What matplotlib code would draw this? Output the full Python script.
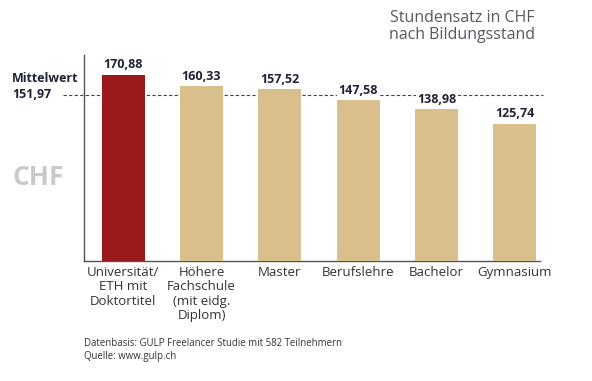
import matplotlib
matplotlib.use("Agg")
import matplotlib.pyplot as plt

plt.rcParams["font.family"] = ["Open Sans", "DejaVu Sans"]

categories = ["Universität/\nETH mit\nDoktortitel", "Höhere\nFachschule\n(mit eidg.\nDiplom)",
              "Master", "Berufslehre", "Bachelor", "Gymnasium"]
values = [170.88, 160.33, 157.52, 147.58, 138.98, 125.74]
value_labels = ["170,88", "160,33", "157,52", "147,58", "138,98", "125,74"]
mean_value = 151.97
mean_label = "Mittelwert\n151,97"

RED = "#9a1a1c"
TAN = "#d8bf8c"
DARK = "#1f2233"

fig = plt.figure(figsize=(5.92, 3.81), dpi=100)
ax = fig.add_axes([0.142, 0.316, 0.77, 0.54])

x = list(range(len(values)))
colors = [RED] + [TAN] * (len(values) - 1)
ax.bar(x, values, width=0.55, color=colors, zorder=3)

# mean line, runs a bit left of the axis
ax.plot([-0.77, 5.36], [mean_value, mean_value], ls=(0, (3, 2)), lw=0.8,
        color="#444444", zorder=1, clip_on=False)

for xi, v, lab in zip(x, values, value_labels):
    ax.text(xi, v + 3, lab, ha="center", va="bottom", fontsize=9,
            fontweight="bold", color=DARK, zorder=4,
            bbox=dict(boxstyle="square,pad=0.1", fc="white", ec="none"))

ax.set_xlim(-0.5, 5.32)
ax.set_ylim(0, 189)
ax.set_xticks(x)
ax.set_xticklabels(categories, fontsize=9.5, color="#333333", linespacing=1.12)
ax.tick_params(axis="x", length=0, pad=4)
ax.set_yticks([])
for s in ["top", "right"]:
    ax.spines[s].set_visible(False)
for s in ["left", "bottom"]:
    ax.spines[s].set_color("#555555")
    ax.spines[s].set_linewidth(1.0)

fig.text(12 / 592, 1 - 87 / 381, mean_label, ha="left", va="center", fontsize=9,
         fontweight="bold", color=DARK, linespacing=1.3)
fig.text(12 / 592, 1 - 177 / 381, "CHF", ha="left", va="center", fontsize=19,
         fontweight="bold", color="#c9c9c9")
fig.text(535 / 592, 1 - 10 / 381, "Stundensatz in CHF\nnach Bildungsstand", ha="right",
         va="top", fontsize=11.5, color="#555a60", linespacing=1.1)
fig.text(84 / 592, 1 - 344 / 381, "Datenbasis: GULP Freelancer Studie mit 582 Teilnehmern",
         ha="left", va="center", fontsize=6.9, color="#333333")
fig.text(84 / 592, 1 - 356 / 381, "Quelle: www.gulp.ch", ha="left", va="center",
         fontsize=6.9, color="#333333")

fig.savefig("out.png", dpi=100)
